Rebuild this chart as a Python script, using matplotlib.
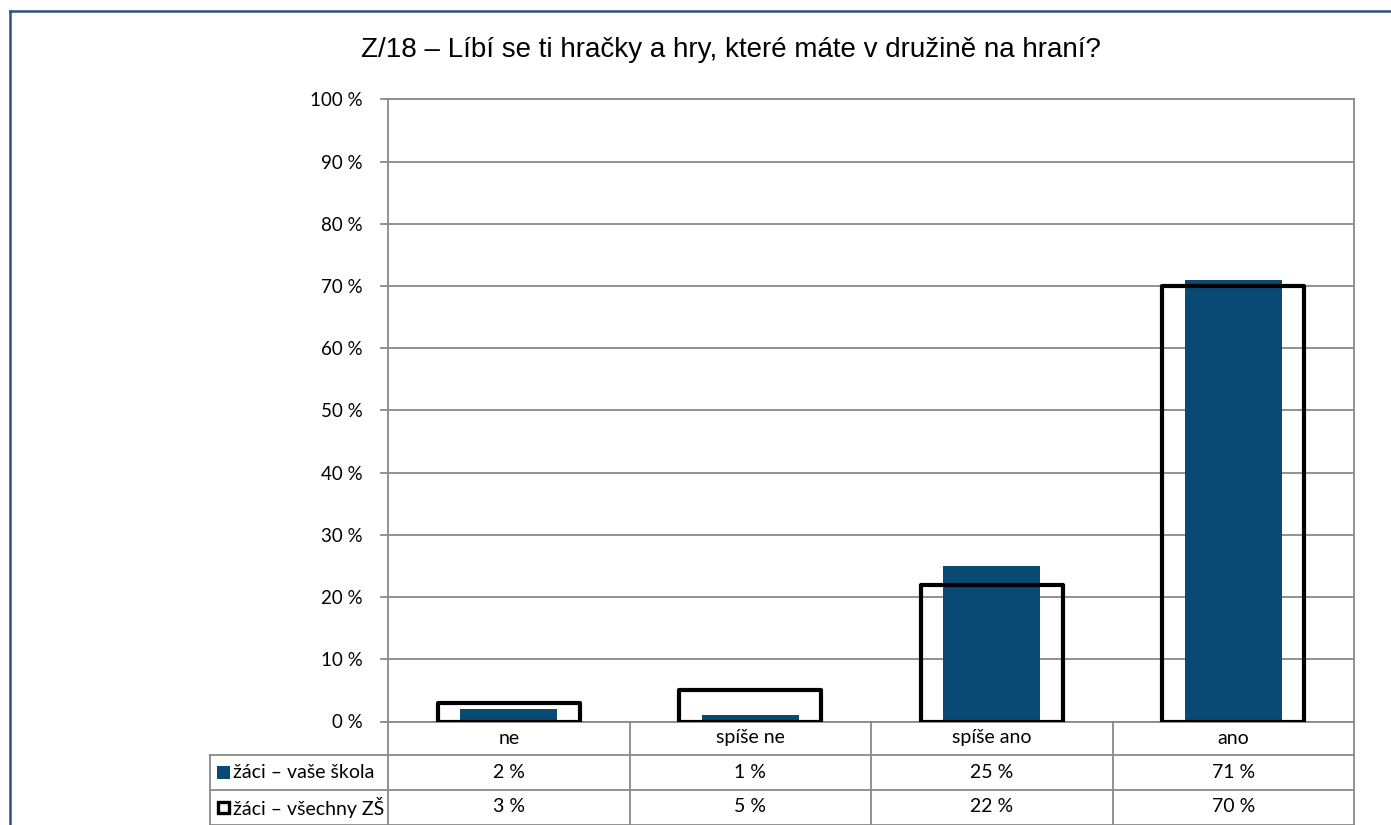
import matplotlib.pyplot as plt
from matplotlib.patches import Rectangle
from matplotlib.lines import Line2D
import numpy as np

# data
categories = ["ne", "spíše ne", "spíše ano", "ano"]
vase_skola = [2, 1, 25, 71]
vsechny_zs = [3, 5, 22, 70]
series_names = ["žáci – vaše škola", "žáci – všechny ZŠ"]
title = "Z/18 – Líbí se ti hračky a hry, které máte v družině na hraní?"

W, H = 1391, 825
blue = "#084a74"
grid_col = "#898989"
tfont = ["Lato", "DejaVu Sans"]
fs = 14

fig = plt.figure(figsize=(W / 100, H / 100), dpi=100)

# axes placed in pixels
x0, x1, y_top, y_bot = 388, 1354, 99.3, 721.5
ax = fig.add_axes([x0 / W, 1 - y_bot / H, (x1 - x0) / W, (y_bot - y_top) / H])

x = np.arange(len(categories))
ax.bar(x, vase_skola, width=0.40, color=blue, zorder=3)
ax.bar(x, vsechny_zs, width=0.59, facecolor="none", edgecolor="black",
       linewidth=3.0, joinstyle="round", zorder=4)

ax.set_xlim(-0.5, 3.5)
ax.set_ylim(0, 100)
ax.set_yticks(range(0, 101, 10))
ax.set_yticklabels([f"{v} %" for v in range(0, 101, 10)], family=tfont, fontsize=13.5)
ax.tick_params(axis="y", length=6, width=1.3, color=grid_col, pad=12)
ax.set_xticks([])
ax.grid(axis="y", color=grid_col, linewidth=1.3, zorder=0)
for s in ax.spines.values():
    s.set_color(grid_col)
    s.set_linewidth(1.3)

# data table under the plot (in axes fraction)
ah = y_bot - y_top
row_h = [33 / ah, 35 / ah, 35 / ah]
left_col = (210 - x0) / (x1 - x0)
tr = ax.transAxes
lkw = dict(color=grid_col, linewidth=1.3, transform=tr, clip_on=False)

y_lines = [0, -row_h[0], -row_h[0] - row_h[1], -sum(row_h)]
for yy in y_lines[1:]:
    ax.add_line(Line2D([left_col, 1], [yy, yy], **lkw))
for i in range(len(categories) + 1):
    ax.add_line(Line2D([i / 4, i / 4], [0, y_lines[-1]], **lkw))
ax.add_line(Line2D([left_col, left_col], [y_lines[1], y_lines[-1]], **lkw))

for i, cat in enumerate(categories):
    xc = (i + 0.5) / 4
    ax.text(xc, -row_h[0] / 2, cat, transform=tr, ha="center", va="center",
            family=tfont, fontsize=fs)
    ax.text(xc, y_lines[1] - row_h[1] / 2, f"{vase_skola[i]} %", transform=tr,
            ha="center", va="center", family=tfont, fontsize=fs)
    ax.text(xc, y_lines[2] - row_h[2] / 2, f"{vsechny_zs[i]} %", transform=tr,
            ha="center", va="center", family=tfont, fontsize=fs)

# legend keys inside the table
px = 1 / (x1 - x0)
py = 1 / ah
yc1 = y_lines[1] - row_h[1] / 2
yc2 = y_lines[2] - row_h[2] / 2
ax.add_patch(Rectangle(((217 - x0) * px, yc1 - 6.5 * py), 13 * px, 13 * py,
                       facecolor=blue, edgecolor="none", transform=tr, clip_on=False))
ax.add_patch(Rectangle(((218.5 - x0) * px, yc2 - 5.5 * py), 11 * px, 11 * py,
                       facecolor="white", edgecolor="black", linewidth=2.4,
                       transform=tr, clip_on=False))
for yc, name in zip([yc1, yc2], series_names):
    ax.text((233 - x0) * px, yc, name, transform=tr, ha="left", va="center",
            family=tfont, fontsize=fs)

fig.text(731 / W, 1 - 50 / H, title, ha="center", va="center",
         family=["Liberation Sans", "DejaVu Sans"], fontsize=20)

# outer chart border (top and left visible)
fig.add_artist(Line2D([10 / W, 10 / W], [0, 1 - 11 / H], color="#2f5079",
                      linewidth=1.8, transform=fig.transFigure))
fig.add_artist(Line2D([10 / W, 1], [1 - 11 / H, 1 - 11 / H], color="#2f5079",
                      linewidth=1.8, transform=fig.transFigure))

fig.savefig("out.png", dpi=100)
